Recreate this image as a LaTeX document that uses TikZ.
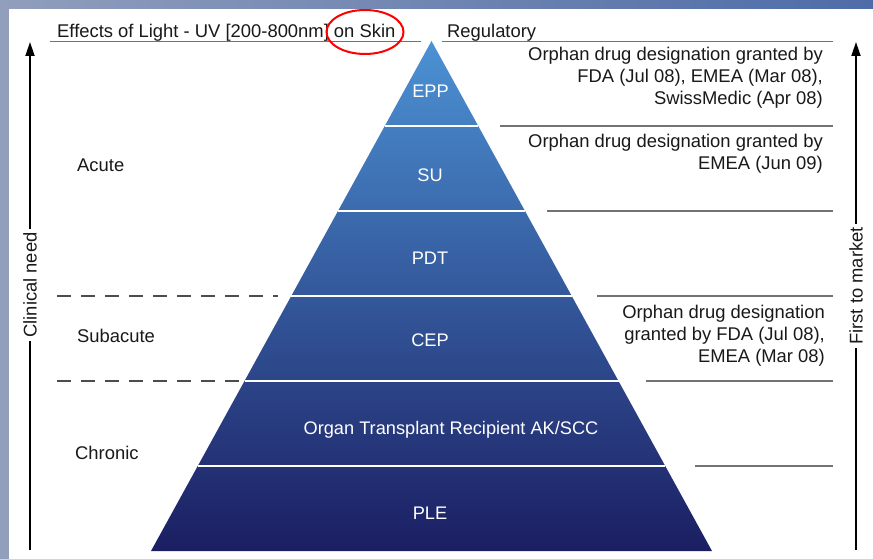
\documentclass[tikz,border=0pt]{standalone}
\usepackage{fontspec}
\setmainfont{Liberation Sans}
\usetikzlibrary{arrows.meta,calc}
\definecolor{txt}{RGB}{25,25,25}
\definecolor{rulegray}{RGB}{115,115,115}
\definecolor{pyrtop}{RGB}{76,146,212}
\definecolor{pyrmid}{RGB}{44,90,168}
\definecolor{pyrbot}{RGB}{27,30,98}
\definecolor{bgl}{RGB}{145,158,188}
\definecolor{bgr}{RGB}{78,108,168}
\begin{document}
\begin{tikzpicture}[x=1pt,y=-1pt,
  lbl/.style={font=\fontsize{18.4}{22}\selectfont, text=txt, inner sep=0pt},
  pyrlbl/.style={font=\fontsize{18.2}{22}\selectfont, text=white, text height=13.1pt, text depth=0pt, inner sep=0pt},
  hrule/.style={draw=rulegray, line width=1.3pt},
  dashrule/.style={draw=black!70, line width=1.2pt, dash pattern=on 14pt off 10pt},
  axisarrow/.style={draw=black, line width=1.8pt, -{Triangle[length=14pt,width=9pt]}},
  bandline/.style={draw=white, line width=2pt}]
% background
\fill[left color=bgl, right color=bgr] (0,0) rectangle (873,559);
\fill[white] (9,9) rectangle (873,559);
\useasboundingbox (0,0) rectangle (873,559);
% pyramid
\coordinate (apex) at (431.5,41);
\coordinate (bl) at (151,551);
\coordinate (br) at (712,551);
\shade[top color=pyrtop, middle color=pyrmid, bottom color=pyrbot] (apex) -- (br) -- (bl) -- cycle;
\foreach \t in {1,...,5}
  \draw[bandline] ($(apex)!\t/6!(bl)$) -- ($(apex)!\t/6!(br)$);
\node[pyrlbl] (epp) at (430.5,91) {EPP};
\node[pyrlbl] (su) at (430,175) {SU};
\node[pyrlbl] (pdt) at (430,258) {PDT};
\node[pyrlbl] (cep) at (430,340) {CEP};
\node[pyrlbl] (otr) at (451,428) {Organ Transplant Recipient AK/SCC};
\node[pyrlbl] (ple) at (430,513) {PLE};
% header
\node[lbl, anchor=base west] (effects) at (57,37.5) {Effects of Light - UV [200-800nm] on Skin};
\node[lbl, anchor=base west] (reg) at (447,37.5) {Regulatory};
\draw[hrule] (50,41.5) -- (421,41.5);
\draw[hrule] (442,41.5) -- (833,41.5);
\draw[red, line width=2pt] (365,32) ellipse [x radius=38.5pt, y radius=22pt];
% left labels
\node[lbl, anchor=west, text height=13.1pt, text depth=0pt] (acute) at (77,165) {Acute};
\node[lbl, anchor=west, text height=13.1pt, text depth=0pt] (subacute) at (77,336) {Subacute};
\node[lbl, anchor=west, text height=13.1pt, text depth=0pt] (chronic) at (75,453) {Chronic};
\draw[dashrule] (57,296) -- (278,296);
\draw[dashrule] (57,381) -- (243,381);
% right separators
\draw[hrule] (500,126) -- (833,126);
\draw[hrule] (547,211) -- (833,211);
\draw[hrule] (597,296) -- (833,296);
\draw[hrule] (646,381) -- (833,381);
\draw[hrule] (695,466) -- (833,466);
% right texts
\node[lbl, align=right, anchor=north east] (reg1) at (823,47) {Orphan drug designation granted by\\FDA (Jul 08), EMEA (Mar 08),\\SwissMedic (Apr 08)};
\node[lbl, align=right, anchor=north east] (reg2) at (823,133.5) {Orphan drug designation granted by\\EMEA (Jun 09)};
\node[lbl, align=right, anchor=north east] (reg3) at (825,304.5) {Orphan drug designation\\granted by FDA (Jul 08),\\EMEA (Mar 08)};
% axes
\coordinate (lbot) at (30,550);
\coordinate (ltop) at (30,42);
\draw[axisarrow] (lbot) -- (ltop);
\node[lbl, rotate=90, fill=white, inner sep=3pt] (clin) at (30,285) {Clinical need};
\coordinate (rbot) at (856,550);
\coordinate (rtop) at (856,42);
\draw[axisarrow] (rbot) -- (rtop);
\node[lbl, rotate=90, fill=white, inner sep=3pt] (market) at (856,286) {First to market};
\end{tikzpicture}
\end{document}
